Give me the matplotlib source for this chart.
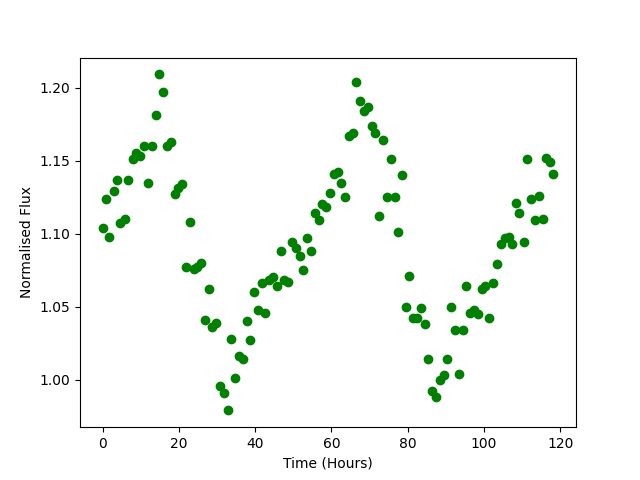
import matplotlib
matplotlib.use("Agg")
import matplotlib.pyplot as plt

# time (hours) and normalised flux
time_h = [0.0, 0.8, 1.8, 2.9, 3.9, 4.7, 5.8, 6.8, 7.9, 8.9,
          9.7, 10.8, 11.8, 12.9, 13.9, 14.7, 15.8, 16.8, 17.9, 18.9,
          19.7, 20.7, 21.8, 22.8, 23.9, 24.7, 25.7, 26.8, 27.8, 28.6,
          29.7, 30.7, 31.8, 32.8, 33.6, 34.7, 35.7, 36.8, 37.8, 38.6,
          39.7, 40.7, 41.8, 42.5, 43.6, 44.6, 45.7, 46.7, 47.5, 48.6,
          49.6, 50.7, 51.7, 52.5, 53.6, 54.6, 55.7, 56.7, 57.5, 58.6,
          59.6, 60.7, 61.7, 62.5, 63.6, 64.6, 65.7, 66.4, 67.5, 68.5,
          69.6, 70.6, 71.4, 72.5, 73.5, 74.6, 75.6, 76.7, 77.5, 78.5,
          79.6, 80.4, 81.4, 82.5, 83.5, 84.6, 85.3, 86.4, 87.4, 88.5,
          89.5, 90.3, 91.4, 92.4, 93.5, 94.5, 95.3, 96.4, 97.4, 98.5,
          99.5, 100.3, 101.4, 102.4, 103.5, 104.5, 105.6, 106.6, 107.4, 108.5,
          109.2, 110.6, 111.3, 112.4, 113.4, 114.5, 115.5, 116.3, 117.4, 118.2]
flux = [1.104, 1.124, 1.098, 1.129, 1.137, 1.107, 1.110, 1.137, 1.151, 1.155,
        1.153, 1.160, 1.135, 1.160, 1.181, 1.209, 1.197, 1.160, 1.163, 1.127,
        1.131, 1.134, 1.077, 1.108, 1.076, 1.077, 1.080, 1.041, 1.062, 1.036,
        1.039, 0.996, 0.991, 0.979, 1.028, 1.001, 1.016, 1.014, 1.040, 1.027,
        1.060, 1.048, 1.066, 1.046, 1.068, 1.070, 1.064, 1.088, 1.068, 1.067,
        1.094, 1.090, 1.085, 1.075, 1.097, 1.088, 1.114, 1.109, 1.120, 1.118,
        1.128, 1.141, 1.142, 1.135, 1.125, 1.167, 1.169, 1.204, 1.191, 1.184,
        1.187, 1.174, 1.169, 1.112, 1.164, 1.125, 1.151, 1.125, 1.101, 1.140,
        1.050, 1.071, 1.042, 1.042, 1.049, 1.038, 1.014, 0.992, 0.988, 1.000,
        1.003, 1.014, 1.050, 1.034, 1.004, 1.034, 1.064, 1.046, 1.048, 1.045,
        1.062, 1.064, 1.042, 1.066, 1.079, 1.093, 1.097, 1.098, 1.093, 1.121,
        1.114, 1.094, 1.151, 1.124, 1.109, 1.126, 1.110, 1.152, 1.149, 1.141]

fig, ax = plt.subplots(figsize=(6.4, 4.8), dpi=100)
ax.plot(time_h, flux, "go")
ax.set_xlabel("Time (Hours)")
ax.set_ylabel("Normalised Flux")
fig.savefig("out.png", dpi=100)
